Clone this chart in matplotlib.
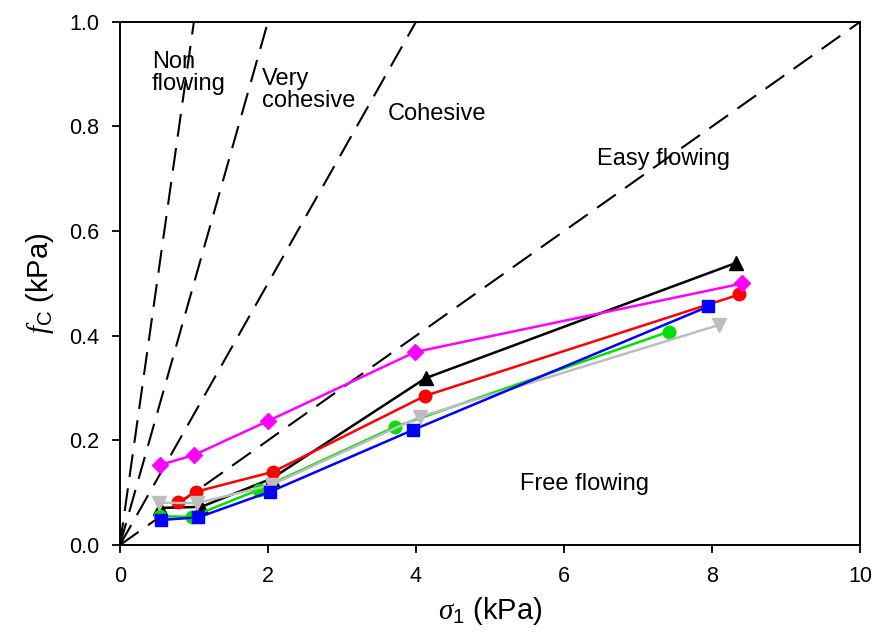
import numpy as np
import matplotlib.pyplot as plt

plt.rcParams['font.family'] = ['Liberation Sans', 'DejaVu Sans']
plt.rcParams['mathtext.fontset'] = 'custom'
plt.rcParams['mathtext.it'] = 'Liberation Serif:italic'
plt.rcParams['mathtext.rm'] = 'Liberation Sans'

# flow function boundaries (ffc = sigma1 / fc)
ffc_lines = [1, 2, 4, 10]
region_labels = ['Non\nflowing', 'Very\ncohesive', 'Cohesive', 'Easy flowing', 'Free flowing']

# measured series: sigma1 (kPa), fc (kPa)
black_x = [0.54, 1.10, 2.05, 4.13, 8.32]
black_y = [0.071, 0.073, 0.127, 0.319, 0.539]
red_x = [0.79, 1.03, 2.07, 4.12, 8.37]
red_y = [0.082, 0.102, 0.140, 0.285, 0.479]
green_x = [0.54, 0.97, 1.88, 3.72, 7.42]
green_y = [0.055, 0.054, 0.106, 0.226, 0.408]
blue_x = [0.56, 1.06, 2.03, 3.96, 7.95]
blue_y = [0.048, 0.053, 0.102, 0.220, 0.456]
grey_x = [0.53, 1.04, 2.05, 4.05, 8.10]
grey_y = [0.081, 0.080, 0.115, 0.245, 0.421]
magenta_x = [0.54, 1.00, 2.00, 3.99, 8.41]
magenta_y = [0.153, 0.172, 0.237, 0.369, 0.500]

fig = plt.figure(figsize=(8.75, 6.42), dpi=100)
ax = fig.add_axes([0.137, 0.151, 0.846, 0.815])

# dashed ffc lines from the origin
xs = np.array([0, 10.0])
for f in ffc_lines:
    ax.plot(xs, xs / f, color='k', lw=1.5, dashes=(11, 5.5), zorder=1)

series = [
    (black_x, black_y, 'k', '^', 9.5),
    (red_x, red_y, '#ff0000', 'o', 9),
    (green_x, green_y, '#00e000', 'o', 9),
    (grey_x, grey_y, '#bdbdbd', 'v', 9.5),
    (blue_x, blue_y, '#0000ff', 's', 9),
    (magenta_x, magenta_y, '#ff00ff', 'D', 8),
]
for x, y, c, m, ms in series:
    ax.plot(x, y, color=c, marker=m, ms=ms, lw=1.8, mec=c, zorder=3)

fs = 17
ax.text(0.43, 0.903, region_labels[0], fontsize=fs, va='center', linespacing=1.0)
ax.text(1.92, 0.870, region_labels[1], fontsize=fs, va='center', linespacing=1.0)
ax.text(3.62, 0.824, region_labels[2], fontsize=fs, va='center')
ax.text(6.45, 0.738, region_labels[3], fontsize=fs, va='center')
ax.text(5.40, 0.117, region_labels[4], fontsize=fs, va='center')

ax.set_xlim(0, 10)
ax.set_ylim(0, 1.0)
ax.set_xticks(np.arange(0, 11, 2))
ax.set_yticks(np.arange(0, 1.01, 0.2))
ax.set_yticklabels(['%.1f' % v for v in np.arange(0, 1.01, 0.2)])
ax.tick_params(direction='out', length=6, width=1.3, labelsize=15.5, pad=9)
for s in ax.spines.values():
    s.set_linewidth(1.4)

ax.set_xlabel(r'$\mathit{\sigma}_{\mathrm{1}}$ (kPa)', fontsize=21, labelpad=6)
ax.set_ylabel(r'$\mathit{f}_{\mathrm{C}}$ (kPa)', fontsize=21, labelpad=9)

fig.savefig('out.png', dpi=100)
